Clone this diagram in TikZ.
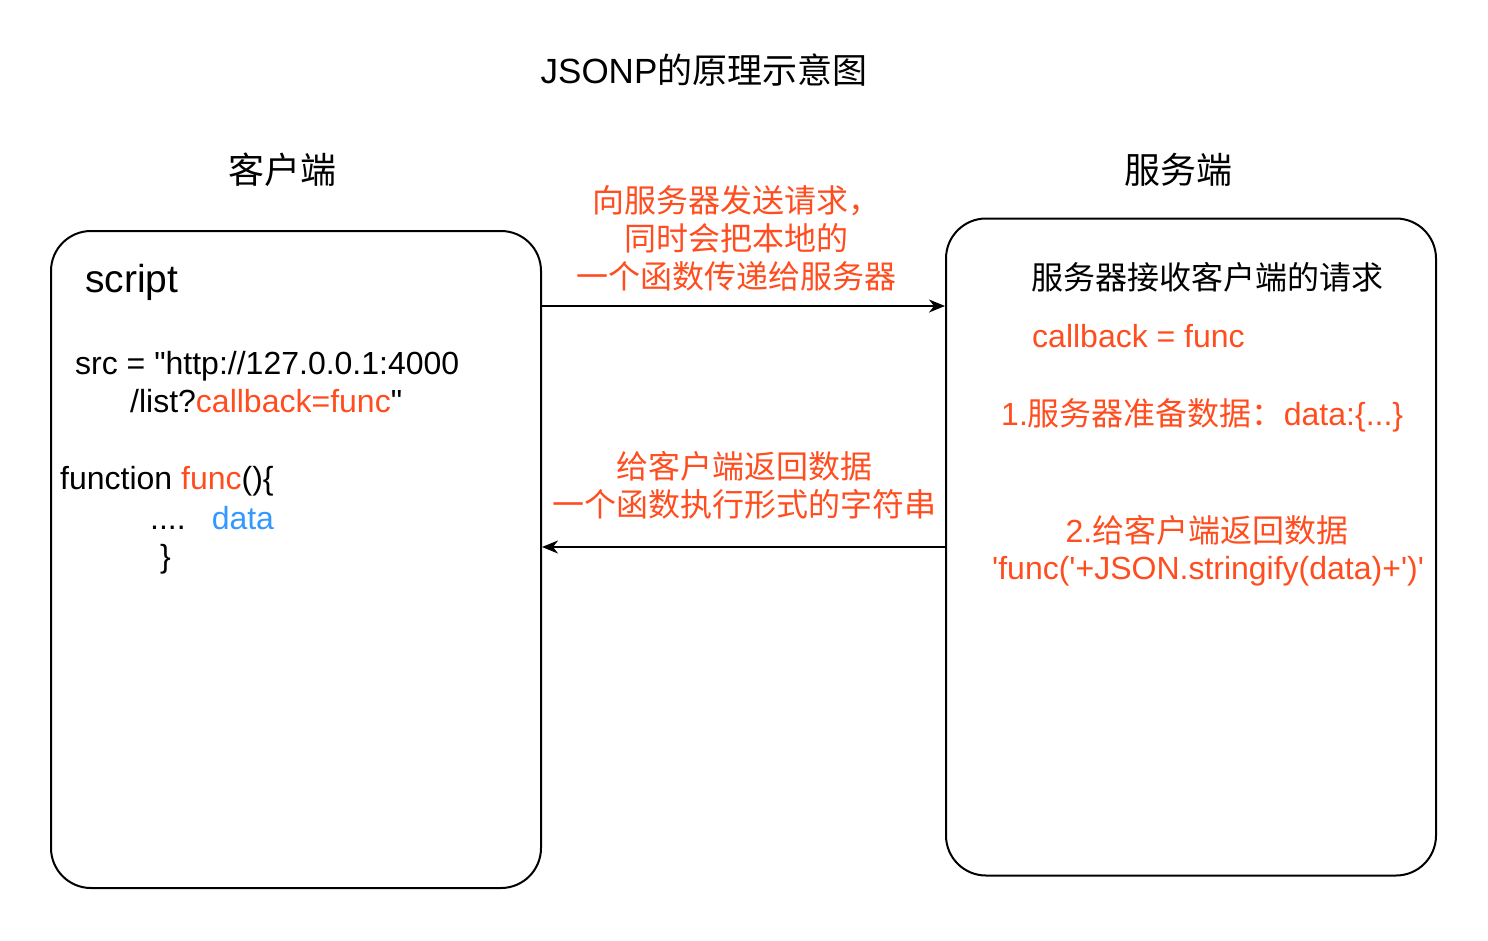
\documentclass[tikz,border=0pt]{standalone}
\usepackage{fontspec}
\newfontfamily\lat{Liberation Sans}
\newfontfamily\cjk{Noto Sans CJK SC}
\usetikzlibrary{arrows.meta}
\definecolor{hot}{HTML}{FF4D1F}
\definecolor{sky}{HTML}{3399FF}
\begin{document}
\begin{tikzpicture}[x=1pt, y=-1pt, line join=round, >={Stealth[length=16pt,width=13pt,inset=5pt]},
  box/.style={draw, line width=2pt, rounded corners=40pt, minimum width=490pt, minimum height=657pt, inner sep=0pt},
  txt/.style={inner sep=0pt, font=\lat\fontsize{32}{38}\selectfont},
  head/.style={inner sep=0pt, font=\cjk\fontsize{36}{42}\selectfont}]
            \useasboundingbox (0,0) rectangle (1488,940);
            \node[inner sep=0pt, font=\lat\fontsize{35}{42}\selectfont] (title) at (704,70) {JSONP{\cjk 的原理示意图}};
            \node[head] (lhead) at (282,170) {客户端};
            \node[head] (rhead) at (1178,170) {服务端};

            \node[box] (client) at (296,559.5) {};
            \node[box] (server) at (1191,547) {};

            \node[txt, font=\lat\fontsize{39}{46}\selectfont, anchor=base west] (script) at (85,292) {script};
            \node[txt, anchor=base west] (src1) at (75,374) {src = "http://127.0.0.1:4000};
            \node[txt, anchor=base west] (src2) at (130,412) {/list?\textcolor{hot}{callback=func}"};
            \node[txt, anchor=base west] (fn) at (60,489) {function \textcolor{hot}{func}()\{};
            \node[txt, anchor=base west] (body) at (150,529) {....\hspace{26pt}\textcolor{sky}{data}};
            \node[txt, anchor=base west] (close) at (160,567) {\}};

            \node[txt, font=\cjk\fontsize{32}{38}\selectfont] (recv) at (1207,277) {服务器接收客户端的请求};
            \node[txt, anchor=base west, text=hot] (cb) at (1032,347) {callback = func};
            \node[txt, anchor=base west, text=hot] (step1) at (1001,425) {1.{\cjk 服务器准备数据：}data:\{...\}};
            \node[txt, anchor=base, text=hot] (step2) at (1207,542) {2.{\cjk 给客户端返回数据}};
            \node[txt, anchor=base west, text=hot] (ret) at (992,579) {'func('+JSON.stringify(data)+')'};

            \coordinate (req) at (0,306);
            \coordinate (resp) at (0,547);
            \draw[->, line width=2pt] (client.east |- req) -- (server.west |- req);
            \draw[->, line width=2pt] (server.west |- resp) -- (client.east |- resp);

            \node[txt, font=\cjk\fontsize{32}{38}\selectfont, text=hot, align=center] (send) at (736,238) {向服务器发送请求，\\同时会把本地的\\一个函数传递给服务器};
            \node[txt, font=\cjk\fontsize{32}{38}\selectfont, text=hot, align=center] (back) at (744,485) {给客户端返回数据\\一个函数执行形式的字符串};
        \end{tikzpicture}
\end{document}
